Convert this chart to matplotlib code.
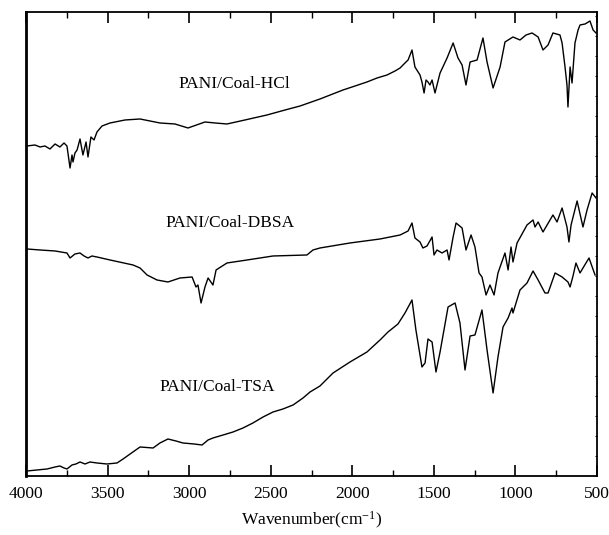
import numpy as np
import matplotlib.pyplot as plt

plt.rcParams['font.family'] = ['Liberation Serif', 'DejaVu Serif']
plt.rcParams['mathtext.fontset'] = 'custom'
plt.rcParams['mathtext.rm'] = 'Liberation Serif'
plt.rcParams['mathtext.it'] = 'Liberation Serif:italic'

# wavenumber (cm-1) and transmittance (a.u., offset curves)
hcl_wn = [3994, 3945, 3914, 3884, 3853, 3822, 3792, 3767, 3749, 3730, 3718, 3712,
          3700, 3687, 3669, 3651, 3632, 3620, 3602, 3583, 3565, 3534, 3485, 3393,
          3301, 3179, 3087, 3007, 2903, 2841, 2768, 2658, 2523, 2412, 2320, 2198,
          2057, 1983, 1910, 1848, 1787, 1738, 1707, 1677, 1658, 1634, 1616, 1585,
          1573, 1560, 1548, 1536, 1524, 1511, 1493, 1462, 1419, 1382, 1352, 1327,
          1303, 1278, 1235, 1199, 1174, 1137, 1094, 1064, 1015, 972, 935, 898,
          861, 831, 800, 770, 727, 714, 696, 684, 678, 665, 653, 635, 616, 604,
          573, 543, 524, 506]
hcl_t = [330, 331, 329, 330, 327, 332, 329, 333, 330, 308, 321, 314,
         323, 326, 337, 321, 334, 319, 339, 336, 344, 350, 353, 356,
         357, 353, 352, 348, 354, 353, 352, 356, 361, 366, 370, 377,
         386, 390, 394, 398, 401, 405, 408, 413, 416, 426, 409, 401,
         394, 383, 396, 394, 391, 396, 383, 403, 418, 433, 418, 411,
         391, 414, 416, 438, 414, 388, 409, 434, 439, 436, 441, 443,
         439, 426, 431, 443, 441, 433, 409, 391, 369, 409, 393, 433, 446, 451,
         452, 455, 446, 443]

dbsa_wn = [3994, 3914, 3822, 3749, 3730, 3700, 3669, 3644, 3620, 3596, 3565, 3485,
           3344, 3301, 3258, 3197, 3130, 3056, 2982, 2958, 2946, 2927, 2903, 2884,
           2854, 2835, 2768, 2645, 2486, 2278, 2241, 2198, 2014, 1830, 1707, 1658,
           1634, 1616, 1585, 1567, 1542, 1511, 1499, 1481, 1450, 1419, 1407, 1382,
           1364, 1327, 1303, 1272, 1248, 1223, 1205, 1180, 1156, 1131, 1107, 1064,
           1045, 1027, 1015, 990, 929, 892, 880, 861, 831, 770, 745, 714, 684,
           672, 659, 622, 586, 561, 530, 506]
dbsa_t = [227, 226, 225, 223, 218, 222, 223, 220, 218, 220, 219, 216,
          211, 208, 201, 196, 194, 198, 199, 189, 191, 173, 189, 198,
          191, 206, 213, 216, 220, 221, 226, 228, 233, 237, 241, 245,
          253, 238, 234, 228, 230, 239, 221, 226, 223, 226, 216, 239,
          253, 248, 226, 241, 229, 203, 199, 181, 191, 181, 203, 223,
          206, 229, 214, 233, 251, 256, 249, 254, 244, 261, 254, 268, 249,
          234, 251, 275, 249, 266, 283, 278]

tsa_wn = [3994, 3933, 3871, 3822, 3792, 3767, 3749, 3718, 3694, 3669, 3638, 3608,
          3565, 3504, 3442, 3405, 3362, 3301, 3221, 3179, 3130, 3081, 3038, 2970,
          2921, 2884, 2854, 2792, 2731, 2670, 2609, 2547, 2486, 2425, 2363, 2302,
          2259, 2198, 2118, 2014, 1910, 1830, 1781, 1720, 1677, 1634, 1610, 1573,
          1554, 1536, 1511, 1487, 1462, 1413, 1370, 1340, 1309, 1278, 1248, 1205,
          1174, 1137, 1107, 1076, 1045, 1021, 1015, 972, 929, 892, 861, 819, 800,
          757, 714, 678, 665, 647, 629, 604, 586, 549, 512]
tsa_t = [5, 6, 7, 9, 10, 8, 7, 11, 12, 14, 12, 14,
         13, 12, 13, 17, 22, 29, 28, 33, 37, 35, 33, 32,
         31, 36, 38, 41, 44, 48, 53, 59, 64, 67, 71, 78,
         84, 90, 103, 114, 124, 136, 144, 152, 163, 176, 146, 109,
         113, 137, 134, 104, 124, 169, 173, 153, 106, 140, 141, 166,
         126, 83, 119, 149, 158, 168, 163, 186, 193, 205, 196, 183, 183,
         203, 199, 194, 189, 200, 213, 203, 208, 218, 201]

labels = ['PANI/Coal-HCl', 'PANI/Coal-DBSA', 'PANI/Coal-TSA']

fig = plt.figure(figsize=(6.09, 5.35), dpi=100)
ax = fig.add_axes([0.0427, 0.1103, 0.9376, 0.8673])

ax.plot(hcl_wn, hcl_t, color='black', lw=1.0)
ax.plot(dbsa_wn, dbsa_t, color='black', lw=1.0)
ax.plot(tsa_wn, tsa_t, color='black', lw=1.0)

ax.text(2725, 392, labels[0], ha='center', va='center', fontsize=12.5)
ax.text(2750, 253, labels[1], ha='center', va='center', fontsize=12.5)
ax.text(2829, 89, labels[2], ha='center', va='center', fontsize=12.5)

ax.set_xlim(4000, 500)
ax.set_ylim(0, 464)
ax.set_xticks(np.arange(4000, 499, -500))
ax.set_xticks(np.arange(3750, 500, -500), minor=True)
ax.tick_params(axis='x', which='major', direction='in', length=8, width=1.2,
               labelsize=12.5, pad=7, top=True)
ax.tick_params(axis='x', which='minor', direction='in', length=4, width=1.0, top=True)
ax.set_yticks(np.arange(0, 464, 20))
ax.tick_params(axis='y', which='major', direction='in', length=1.5, width=0.7,
               left=False, right=True, labelleft=False)
ax.set_xlabel('Wavenumber(cm$^{-1}$)', fontsize=12.5, labelpad=6)

for side in ['top', 'right', 'bottom']:
    ax.spines[side].set_linewidth(1.3)
ax.spines['left'].set_linewidth(2.0)

fig.savefig('out.png', dpi=100)
